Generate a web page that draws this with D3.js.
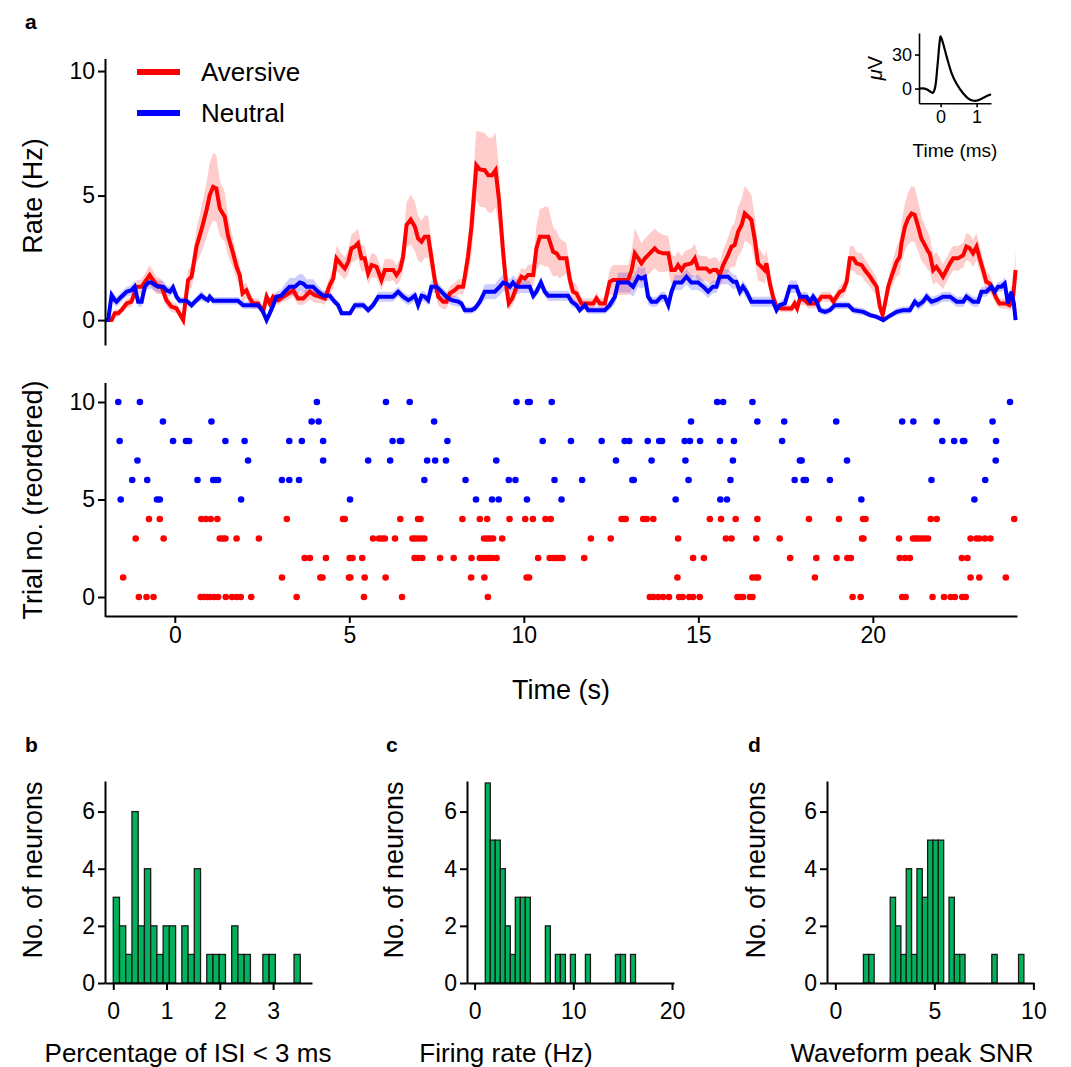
<!DOCTYPE html>
<html>
<head>
<meta charset="utf-8">
<script src="https://cdn.jsdelivr.net/npm/d3@7"></script>
<style>
  body { margin: 0; background: #fff; }
  svg { font-family: "Liberation Sans", Arial, sans-serif; }
  .axis path, .axis line { stroke: #000; stroke-width: 2; }
  .axis text { font-size: 23px; fill: #000; font-family: "Liberation Sans", Arial, sans-serif; }
  .inset path, .inset line { stroke-width: 1.6; }
  .inset text { font-size: 18px; }
</style>
</head>
<body>
<svg id="fig" width="1071" height="1067"></svg>
<script>
// ---------- data ----------
// [time (s), rate (Hz), sem]
const aversiveRate = [
  [-2.00,0,0.05],[-1.81,0,0.05],[-1.72,0.27,0.15],[-1.62,0.27,0.15],[-1.53,0.4,0.15],[-1.38,0.67,0.2],[-1.24,0.74,0.2],
  [-1.10,1.34,0.25],[-0.95,1.34,0.3],[-0.72,1.81,0.4],[-0.53,1.41,0.35],[-0.38,1.34,0.3],[-0.24,0.8,0.25],[-0.10,0.54,0.2],
  [0.05,0.47,0.2],[0.24,0,0.1],[0.38,1.61,0.4],[0.48,1.74,0.45],[0.62,2.95,0.7],[0.76,3.61,0.9],[0.91,4.42,1.1],
  [1.00,5.02,1.3],[1.10,5.35,1.35],[1.19,5.29,1.35],[1.29,4.48,1.1],[1.43,4.15,1.0],[1.53,3.35,0.8],[1.67,2.68,0.6],
  [1.77,2.14,0.5],[1.86,1.81,0.45],[1.94,1.07,0.35],[2.05,1.2,0.3],[2.15,0.87,0.25],[2.24,0.67,0.2],[2.39,0.67,0.2],
  [2.53,0.33,0.15],[2.63,0.94,0.2],[2.72,0.67,0.2],[2.82,0.94,0.2],[2.96,0.8,0.2],[3.10,0.94,0.2],[3.25,1.07,0.25],
  [3.39,1.2,0.25],[3.53,0.87,0.25],[3.68,0.87,0.25],[3.87,1.14,0.3],[4.01,1.0,0.3],[4.15,0.94,0.25],[4.30,0.87,0.25],
  [4.44,1.41,0.35],[4.54,1.67,0.4],[4.63,2.48,0.5],[4.78,2.21,0.45],[4.87,2.07,0.45],[4.97,2.34,0.5],[5.06,2.88,0.55],
  [5.16,2.95,0.6],[5.25,3.08,0.6],[5.35,2.48,0.55],[5.44,2.48,0.5],[5.54,1.87,0.45],[5.64,2.21,0.5],[5.78,2.14,0.45],
  [5.92,1.61,0.4],[6.02,2.01,0.45],[6.16,2.01,0.45],[6.26,2.01,0.4],[6.35,1.81,0.4],[6.45,2.01,0.45],[6.54,2.54,0.6],
  [6.64,3.82,0.9],[6.76,4.04,1.0],[6.88,3.75,1.0],[6.97,3.28,0.9],[7.07,3.15,0.85],[7.16,3.35,0.85],[7.26,3.35,0.85],
  [7.35,2.54,0.7],[7.45,1.61,0.5],[7.55,0.94,0.35],[7.69,0.74,0.3],[7.78,0.74,0.3],[7.88,1.07,0.3],[8.02,1.2,0.3],
  [8.12,1.34,0.3],[8.26,1.34,0.3],[8.40,2.54,0.8],[8.50,3.75,1.1],[8.64,6.22,1.4],[8.74,6.05,1.5],[8.88,6.02,1.5],
  [8.98,5.82,1.5],[9.09,5.82,1.5],[9.19,6.02,1.5],[9.29,4.82,1.2],[9.41,2.68,0.8],[9.50,1.34,0.45],[9.57,0.67,0.3],
  [9.67,0.87,0.3],[9.79,1.34,0.35],[9.93,1.74,0.35],[10.03,1.67,0.35],[10.12,1.81,0.4],[10.27,1.81,0.45],[10.36,2.88,0.9],
  [10.46,3.35,1.1],[10.60,3.35,1.2],[10.70,3.35,1.2],[10.84,2.74,1.0],[10.94,2.68,0.9],[11.03,2.48,0.8],[11.13,2.48,0.7],
  [11.22,2.48,0.6],[11.32,1.61,0.5],[11.41,1.14,0.4],[11.51,1.07,0.35],[11.65,0.67,0.2],[11.80,0.67,0.2],[11.99,0.67,0.2],
  [12.08,0.87,0.25],[12.18,0.67,0.2],[12.32,0.67,0.25],[12.46,1.54,0.5],[12.56,1.61,0.6],[12.85,1.61,0.6],[12.99,1.61,0.6],
  [13.09,2.01,0.8],[13.18,2.68,1.0],[13.28,2.48,0.9],[13.37,2.28,0.8],[13.47,2.48,0.8],[13.61,2.68,0.8],[13.75,2.88,0.8],
  [13.85,2.74,0.8],[13.99,2.68,0.75],[14.14,2.68,0.7],[14.23,2.01,0.6],[14.33,2.01,0.55],[14.42,2.21,0.55],[14.52,2.01,0.55],
  [14.61,2.21,0.55],[14.80,2.28,0.6],[14.90,2.48,0.6],[14.99,2.07,0.55],[15.09,2.07,0.5],[15.23,2.07,0.5],[15.33,1.94,0.5],
  [15.42,2.01,0.5],[15.52,2.01,0.5],[15.61,1.81,0.5],[15.71,2.21,0.6],[15.85,2.61,0.7],[15.95,2.95,0.8],[16.04,3.01,0.9],
  [16.14,3.55,1.0],[16.24,3.82,1.05],[16.33,4.28,1.1],[16.43,4.15,1.05],[16.52,4.02,1.0],[16.62,3.21,0.9],[16.71,2.28,0.7],
  [16.81,2.14,0.6],[16.90,2.01,0.55],[16.95,2.28,0.55],[17.05,1.47,0.4],[17.14,0.94,0.3],[17.24,0.54,0.15],[17.38,0.47,0.15],
  [17.52,0.47,0.15],[17.67,0.47,0.15],[17.76,0.67,0.2],[17.83,0.47,0.15],[17.91,0.87,0.25],[18.05,0.8,0.2],[18.15,0.67,0.2],
  [18.29,0.67,0.2],[18.39,0.67,0.2],[18.53,0.94,0.2],[18.68,0.94,0.2],[18.77,0.94,0.2],[18.87,0.74,0.2],[18.96,0.94,0.2],
  [19.06,1.14,0.25],[19.15,1.2,0.3],[19.25,1.54,0.35],[19.34,2.48,0.5],[19.44,2.48,0.5],[19.53,2.28,0.45],[19.68,2.21,0.45],
  [19.77,2.01,0.45],[19.92,1.74,0.4],[20.01,1.54,0.4],[20.11,1.34,0.35],[20.20,0.54,0.25],[20.28,0.2,0.1],[20.34,0.6,0.2],
  [20.44,1.34,0.35],[20.53,1.74,0.45],[20.68,2.34,0.6],[20.77,2.54,0.7],[20.82,3.08,0.8],[20.92,3.75,0.95],[21.01,4.08,1.05],
  [21.11,4.28,1.1],[21.20,4.22,1.1],[21.30,3.75,1.0],[21.39,3.28,0.9],[21.49,3.01,0.8],[21.59,2.74,0.75],[21.63,2.68,0.7],
  [21.73,2.01,0.6],[21.82,2.14,0.6],[21.92,1.94,0.55],[22.01,1.74,0.5],[22.11,2.01,0.5],[22.21,2.28,0.5],[22.30,2.48,0.5],
  [22.44,2.48,0.5],[22.59,2.61,0.5],[22.68,2.95,0.55],[22.78,2.88,0.55],[22.87,2.68,0.55],[22.97,2.95,0.55],[23.06,2.48,0.5],
  [23.16,2.01,0.45],[23.25,1.54,0.4],[23.35,1.47,0.35],[23.44,1.2,0.3],[23.54,0.87,0.25],[23.63,0.67,0.2],[23.73,0.67,0.2],
  [23.82,0.67,0.2],[23.92,0.6,0.2],[24.01,0.8,0.3],[24.09,2.01,0.8]
];

const neutralRate = [
  [-2.00,0,0.05],[-1.91,0,0.05],[-1.81,1.0,0.2],[-1.72,0.8,0.2],[-1.67,0.74,0.2],[-1.53,0.94,0.2],[-1.38,1.14,0.2],
  [-1.24,1.2,0.2],[-1.15,1.34,0.25],[-1.05,0.74,0.2],[-0.95,0.74,0.2],[-0.86,1.34,0.25],[-0.76,1.51,0.25],[-0.67,1.51,0.25],
  [-0.57,1.41,0.25],[-0.48,1.34,0.25],[-0.33,1.34,0.25],[-0.24,1.2,0.2],[-0.14,1.14,0.2],[-0.05,1.31,0.2],[0.05,0.94,0.2],
  [0.14,0.78,0.15],[0.33,0.78,0.15],[0.48,0.6,0.15],[0.62,0.8,0.15],[0.76,0.98,0.2],[0.86,0.87,0.15],[0.95,0.8,0.15],
  [1.00,0.94,0.15],[1.10,0.78,0.15],[1.29,0.78,0.15],[1.48,0.78,0.15],[1.67,0.78,0.15],[1.81,0.78,0.15],[1.96,0.6,0.15],
  [2.10,0.6,0.15],[2.24,0.6,0.15],[2.39,0.6,0.15],[2.53,0.33,0.1],[2.63,0,0.05],[2.72,0.27,0.1],[2.82,0.6,0.15],
  [2.91,0.94,0.2],[3.05,0.98,0.25],[3.15,1.14,0.3],[3.29,1.34,0.35],[3.44,1.34,0.35],[3.58,1.51,0.35],[3.68,1.47,0.35],
  [3.77,1.34,0.3],[3.96,1.34,0.3],[4.10,1.14,0.25],[4.25,0.98,0.2],[4.44,0.98,0.2],[4.58,0.74,0.15],[4.68,0.6,0.15],
  [4.78,0.27,0.1],[5.02,0.27,0.1],[5.16,0.6,0.15],[5.40,0.6,0.15],[5.54,0.4,0.15],[5.68,0.6,0.15],[5.83,0.94,0.2],
  [6.06,0.94,0.2],[6.25,0.94,0.2],[6.40,1.14,0.2],[6.54,0.94,0.2],[6.69,0.8,0.2],[6.78,0.87,0.2],[6.88,0.98,0.2],
  [6.97,0.6,0.15],[7.07,0.98,0.2],[7.16,0.94,0.2],[7.26,0.8,0.2],[7.35,1.34,0.25],[7.50,1.34,0.25],[7.64,1.14,0.2],
  [7.78,0.94,0.2],[7.93,0.8,0.2],[8.12,0.74,0.2],[8.21,0.67,0.15],[8.31,0.4,0.15],[8.50,0.4,0.15],[8.60,0.47,0.15],
  [8.74,0.74,0.2],[8.88,1.14,0.3],[9.17,1.14,0.3],[9.31,1.34,0.35],[9.41,1.51,0.35],[9.50,1.47,0.35],[9.60,1.34,0.3],
  [9.69,1.51,0.3],[9.79,1.34,0.3],[9.93,1.34,0.25],[10.17,1.34,0.25],[10.27,0.98,0.2],[10.36,1.14,0.2],[10.49,1.51,0.25],
  [10.60,1.14,0.2],[10.70,0.98,0.2],[10.89,0.98,0.2],[11.08,0.98,0.2],[11.27,0.98,0.2],[11.37,0.74,0.2],[11.51,0.6,0.15],
  [11.60,0.4,0.15],[11.75,0.6,0.15],[11.84,0.4,0.15],[12.32,0.4,0.15],[12.46,0.6,0.2],[12.61,0.94,0.3],[12.70,1.51,0.4],
  [12.85,1.51,0.4],[12.99,1.51,0.4],[13.13,1.34,0.4],[13.28,1.74,0.4],[13.37,1.67,0.4],[13.47,1.74,0.4],[13.56,0.94,0.3],
  [13.66,0.74,0.2],[13.80,0.74,0.2],[13.94,0.94,0.2],[14.04,0.94,0.2],[14.14,0.6,0.2],[14.23,1.14,0.25],[14.33,1.51,0.3],
  [14.52,1.51,0.3],[14.66,1.74,0.3],[14.80,1.51,0.3],[14.99,1.51,0.3],[15.14,1.34,0.25],[15.28,1.14,0.25],[15.42,1.34,0.25],
  [15.52,1.34,0.25],[15.61,1.74,0.3],[15.71,1.74,0.3],[15.85,1.74,0.3],[16.00,1.54,0.3],[16.09,1.54,0.25],[16.19,1.14,0.25],
  [16.28,1.34,0.25],[16.38,1.14,0.25],[16.52,0.74,0.2],[16.67,0.74,0.2],[16.86,0.74,0.2],[17.05,0.74,0.2],[17.14,0.74,0.2],
  [17.24,0.4,0.15],[17.33,0.6,0.15],[17.48,0.67,0.2],[17.62,1.34,0.25],[17.81,1.34,0.25],[17.91,0.94,0.2],[18.10,0.94,0.2],
  [18.20,0.74,0.2],[18.29,0.94,0.2],[18.39,0.74,0.2],[18.48,0.4,0.15],[18.63,0.33,0.15],[18.77,0.4,0.15],[18.91,0.6,0.15],
  [19.06,0.6,0.15],[19.30,0.6,0.15],[19.44,0.4,0.15],[19.73,0.33,0.15],[19.92,0.2,0.1],[20.11,0.13,0.1],[20.30,0,0.05],
  [20.44,0.13,0.1],[20.68,0.33,0.15],[20.87,0.4,0.15],[21.06,0.4,0.15],[21.20,0.74,0.2],[21.30,0.6,0.2],[21.44,0.74,0.2],
  [21.54,0.94,0.2],[21.68,0.74,0.2],[21.82,0.8,0.2],[22.01,0.94,0.2],[22.21,0.94,0.2],[22.40,0.74,0.2],[22.59,0.74,0.2],
  [22.68,0.94,0.2],[22.87,0.74,0.2],[23.02,0.74,0.2],[23.11,1.14,0.2],[23.25,1.14,0.2],[23.40,1.34,0.2],[23.49,1.14,0.2],
  [23.59,1.34,0.2],[23.68,1.34,0.2],[23.78,1.47,0.25],[23.87,0.67,0.2],[23.97,1.14,0.25],[24.04,0.67,0.2],[24.09,0,0.1]
];

// raster: spike times (s) per trial row
const neutralSpikes = {
  10: [-1.62,-1.00,4.07,6.05,6.73,9.79,10.12,10.17,10.80,15.54,15.71,16.55,23.93],
  9: [-0.34,1.05,3.92,4.12,7.43,14.79,16.69,17.46,18.95,20.84,21.16,21.83,23.43],
  8: [-1.58,-0.05,0.32,0.41,1.45,2.00,3.28,3.64,4.25,6.24,6.45,6.49,7.81,10.54,11.35,12.23,12.89,13.02,13.55,13.88,13.96,
      14.61,14.76,15.05,15.62,16.02,17.40,21.99,22.33,22.58,22.62,23.53],
  7: [-1.07,2.10,4.25,5.54,6.17,7.23,7.46,7.77,9.21,12.64,13.66,14.63,15.99,17.91,17.96,19.26,23.52],
  6: [-1.22,-0.79,0.65,1.10,1.17,1.24,3.07,3.28,3.56,7.15,8.33,9.57,9.76,10.88,11.67,13.11,13.15,14.72,15.92,17.76,18.02,
      18.08,18.77,21.68,23.22],
  5: [-1.55,-0.51,-0.43,1.90,5.02,8.63,9.09,9.28,10.09,11.08,14.35,15.63,15.82,19.67,22.91]
};
const aversiveSpikes = {
  4: [-0.74,-0.43,0.76,0.89,1.03,1.22,3.21,4.82,4.87,6.46,6.97,7.04,8.24,8.74,8.95,9.59,10.04,10.26,10.62,10.77,12.80,12.87,
      12.92,13.42,13.52,13.71,15.33,15.65,16.07,16.69,18.17,19.03,19.72,19.79,21.66,21.83,24.05],
  3: [-1.12,-0.32,1.29,1.37,1.45,1.77,2.41,5.68,5.85,5.94,6.02,6.31,6.81,6.88,6.97,7.06,7.15,8.86,8.95,9.03,9.12,9.38,11.92,
      12.49,14.42,15.79,15.95,16.66,17.33,19.69,19.73,20.75,21.15,21.23,21.30,21.39,21.49,21.58,22.80,22.97,23.05,23.21,23.37],
  2: [3.72,3.87,4.33,5.01,5.09,5.37,6.87,6.97,7.09,7.60,7.99,8.50,8.74,8.82,8.91,9.01,9.10,9.22,10.41,10.74,10.84,10.94,11.03,
      11.11,11.73,14.85,15.16,17.63,18.38,18.96,19.27,19.37,20.77,20.92,21.06,22.55,22.71],
  1: [-1.48,3.07,4.17,4.23,4.99,5.03,5.44,6.04,8.49,8.87,10.08,10.15,14.40,16.55,16.65,16.71,18.34,22.80,23.05,23.81],
  0: [-1.03,-0.81,-0.61,0.74,0.83,0.93,1.01,1.13,1.24,1.46,1.64,1.77,1.89,2.19,3.49,5.42,6.51,8.97,13.61,13.71,13.85,13.99,
      14.16,14.45,14.55,14.74,14.85,15.04,16.12,16.22,16.28,16.48,16.55,19.42,19.65,20.84,20.94,21.71,22.04,22.23,22.35,22.56,22.66]
};

// inset spike waveform: [time (ms), µV]
const waveform = [
  [-0.6,0],[-0.44,0],[-0.34,-1.5],[-0.22,-3.8],[-0.16,0],[-0.09,19],[-0.03,40],[0,46],[0.07,39.7],[0.17,27.9],
  [0.31,13.2],[0.44,4.4],[0.63,-4.4],[0.81,-9.7],[0.95,-10.9],[1.09,-9.7],[1.23,-7.4],[1.40,-5]
];

// histograms: bin range and counts per bin (30 bins each)
const isiRange = [0, 3.51];
const isiCounts = [3,2,1,6,2,4,2,1,2,2,0,2,1,4,0,1,1,1,0,2,1,1,0,0,1,1,0,0,0,1];
const rateRange = [1.08, 16.3];
const rateCounts = [7,5,5,4,2,1,3,3,3,0,0,0,2,0,1,1,0,1,0,0,1,0,0,0,0,0,1,1,0,1];
const snrRange = [1.42, 9.52];
const snrCounts = [1,1,0,0,0,3,2,1,4,1,4,3,5,5,5,0,3,1,1,0,0,0,0,0,1,0,0,0,0,1];

const timeTicks = [0, 5, 10, 15, 20];
const rateTicks = [0, 5, 10];
const trialTicks = [0, 5, 10];
const countTicks = [0, 2, 4, 6];

const RED = "#ff0000", BLUE = "#0000ff", GREEN = "#00b25c";
const fmt = d3.format("d");

// ---------- figure ----------
const svg = d3.select("#fig");

// shared time scale for panel a
const x = d3.scaleLinear().domain([-2, 24.13]).range([105, 1017]);
const yRate = d3.scaleLinear().domain([-1, 10.5]).range([345, 58.6]);
const yTrial = d3.scaleLinear().domain([-1, 11]).range([616.5, 382.5]);

// rate panel
const band = d3.area()
  .x(d => x(d[0]))
  .y0(d => yRate(d[1] - d[2]))
  .y1(d => yRate(d[1] + d[2]));
const line = d3.line().x(d => x(d[0])).y(d => yRate(d[1]));

svg.append("path").attr("d", band(neutralRate)).attr("fill", BLUE).attr("fill-opacity", 0.2);
svg.append("path").attr("d", band(aversiveRate)).attr("fill", RED).attr("fill-opacity", 0.2);
svg.append("path").attr("d", line(aversiveRate)).attr("fill", "none").attr("stroke", RED).attr("stroke-width", 4);
svg.append("path").attr("d", line(neutralRate)).attr("fill", "none").attr("stroke", BLUE).attr("stroke-width", 4);

svg.append("g").attr("class", "axis")
  .attr("transform", "translate(105,0)")
  .call(d3.axisLeft(yRate).tickValues(rateTicks).tickFormat(fmt).tickSize(7).tickPadding(3).tickSizeOuter(0));

// legend
const legend = [["Aversive", RED, 72], ["Neutral", BLUE, 113]];
legend.forEach(([name, col, ly]) => {
  svg.append("line").attr("x1", 137).attr("x2", 180).attr("y1", ly).attr("y2", ly)
    .attr("stroke", col).attr("stroke-width", 6);
  svg.append("text").attr("x", 201).attr("y", ly + 9).attr("font-size", 26).text(name);
});

// raster
Object.entries(neutralSpikes).forEach(([trial, times]) => {
  svg.append("g").selectAll("circle").data(times).join("circle")
    .attr("cx", d => x(d)).attr("cy", yTrial(+trial)).attr("r", 3.3).attr("fill", BLUE);
});
Object.entries(aversiveSpikes).forEach(([trial, times]) => {
  svg.append("g").selectAll("circle").data(times).join("circle")
    .attr("cx", d => x(d)).attr("cy", yTrial(+trial)).attr("r", 3.3).attr("fill", RED);
});

svg.append("g").attr("class", "axis")
  .attr("transform", "translate(105,0)")
  .call(d3.axisLeft(yTrial).tickValues(trialTicks).tickFormat(fmt).tickSize(7).tickPadding(3).tickSizeOuter(0));
svg.append("g").attr("class", "axis")
  .attr("transform", "translate(0,616)")
  .call(d3.axisBottom(x).tickValues(timeTicks).tickFormat(fmt).tickSize(7).tickPadding(4).tickSizeOuter(0));

svg.append("text").attr("x", 561).attr("y", 699).attr("text-anchor", "middle").attr("font-size", 27).text("Time (s)");
svg.append("text").attr("transform", "translate(42,196) rotate(-90)").attr("text-anchor", "middle")
  .attr("font-size", 27).text("Rate (Hz)");
svg.append("text").attr("transform", "translate(42,500) rotate(-90)").attr("text-anchor", "middle")
  .attr("font-size", 27).text("Trial no. (reordered)");

// inset waveform
const xi = d3.scaleLinear().domain([-0.6, 1.4]).range([919, 991]);
const yi = d3.scaleLinear().domain([-13, 49]).range([103.3, 33]);
svg.append("path").attr("d", d3.line().curve(d3.curveCatmullRom).x(d => xi(d[0])).y(d => yi(d[1]))(waveform))
  .attr("fill", "none").attr("stroke", "#000").attr("stroke-width", 2.2);
svg.append("g").attr("class", "axis inset").attr("transform", "translate(919,0)")
  .call(d3.axisLeft(yi).tickValues([0, 30]).tickFormat(fmt).tickSize(4).tickPadding(3).tickSizeOuter(0));
svg.append("g").attr("class", "axis inset").attr("transform", "translate(0,103.3)")
  .call(d3.axisBottom(xi).tickValues([0, 1]).tickFormat(fmt).tickSize(4).tickPadding(3).tickSizeOuter(0));
svg.append("text").attr("x", 955).attr("y", 157).attr("text-anchor", "middle").attr("font-size", 19).text("Time (ms)");
const muLabel = svg.append("text").attr("transform", "translate(882,68) rotate(-90)")
  .attr("text-anchor", "middle").attr("font-size", 20);
muLabel.append("tspan").attr("font-style", "italic").text("\u03bc");
muLabel.append("tspan").text("V");

// histograms
const hists = [
  { letter: "b", left: 105, domain: [-0.155, 3.73], ticks: [0, 1, 2, 3], range: isiRange, counts: isiCounts,
    label: "Percentage of ISI < 3 ms", labelX: 188, lx: 32 },
  { letter: "c", left: 467, domain: [-0.77, 20.2], ticks: [0, 10, 20], range: rateRange, counts: rateCounts,
    label: "Firing rate (Hz)", labelX: 506, lx: 393 },
  { letter: "d", left: 827, domain: [-0.42, 10.03], ticks: [0, 5, 10], range: snrRange, counts: snrCounts,
    label: "Waveform peak SNR", labelX: 912, lx: 755 }
];
const yCount = d3.scaleLinear().domain([0, 7.07]).range([983, 781]);

hists.forEach(h => {
  const hx = d3.scaleLinear().domain(h.domain).range([h.left, h.left + 207]);
  const w = (h.range[1] - h.range[0]) / h.counts.length;
  const bins = h.counts.map((c, i) => ({ x0: h.range[0] + i * w, x1: h.range[0] + (i + 1) * w, c }))
    .filter(b => b.c > 0);
  svg.append("g").selectAll("rect").data(bins).join("rect")
    .attr("x", b => hx(b.x0)).attr("width", b => hx(b.x1) - hx(b.x0))
    .attr("y", b => yCount(b.c)).attr("height", b => yCount(0) - yCount(b.c))
    .attr("fill", GREEN).attr("stroke", "#1a1a1a").attr("stroke-width", 1.3);

  svg.append("g").attr("class", "axis").attr("transform", `translate(${h.left},0)`)
    .call(d3.axisLeft(yCount).tickValues(countTicks).tickFormat(fmt).tickSize(7).tickPadding(3).tickSizeOuter(0));
  svg.append("g").attr("class", "axis").attr("transform", "translate(0,983)")
    .call(d3.axisBottom(hx).tickValues(h.ticks).tickFormat(fmt).tickSize(7).tickPadding(13).tickSizeOuter(0));

  svg.append("text").attr("x", h.labelX).attr("y", 1062).attr("text-anchor", "middle")
    .attr("font-size", 26).text(h.label);
  svg.append("text").attr("transform", `translate(${h.lx + 10},870) rotate(-90)`).attr("text-anchor", "middle")
    .attr("font-size", 27).text("No. of neurons");
  svg.append("text").attr("x", h.lx - 7).attr("y", 752).attr("font-size", 21).attr("font-weight", "bold").text(h.letter);
});

svg.append("text").attr("x", 25).attr("y", 29).attr("font-size", 21).attr("font-weight", "bold").text("a");
</script>
</body>
</html>
